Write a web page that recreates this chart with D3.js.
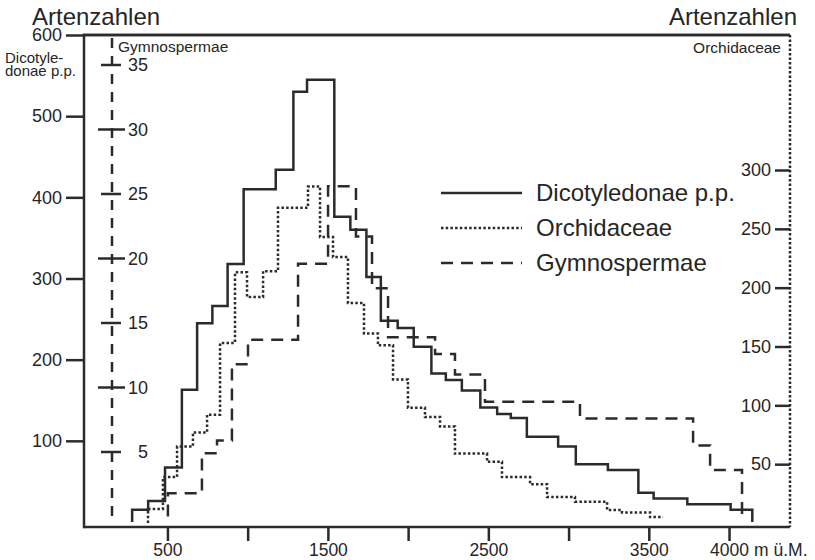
<!DOCTYPE html>
<html>
<head>
<meta charset="utf-8">
<script src="https://cdn.jsdelivr.net/npm/d3@7"></script>
<style>
  body { margin: 0; background: #fff; }
  text { font-family: "Liberation Sans", Arial, sans-serif; fill: #262626; }
</style>
</head>
<body>
<div id="chart"></div>
<script>
// step edges (m ü.M.) and species numbers per step
var dicotEdges = [280, 380, 485, 590, 685, 780, 875, 975, 1175, 1285, 1370, 1540, 1640, 1740, 1830, 1935, 2035, 2145, 2235, 2335, 2450, 2555, 2640, 2740, 2935, 3045, 3245, 3435, 3530, 3740, 4010, 4145];
var dicotValues = [15, 26, 67, 163, 245, 266, 318, 410, 434, 530, 545, 376, 360, 302, 248, 239, 216, 183, 175, 162, 141, 133, 128, 105, 93, 71, 64, 36, 29, 22, 15];

var orchidEdges = [379, 472, 560, 659, 747, 828, 921, 996, 1096, 1189, 1376, 1451, 1532, 1625, 1725, 1812, 1906, 1999, 2105, 2199, 2292, 2492, 2585, 2760, 2866, 3040, 3240, 3333, 3508, 3589];
var orchidValues = [12, 39, 65, 77, 92, 153, 213, 192, 214, 268, 286, 243, 226, 187, 161, 151, 122, 98, 90, 82, 59, 52, 39, 33, 22, 18, 11, 9, 5];

var gymnoEdges = [503, 715, 809, 902, 1002, 1314, 1501, 1675, 1775, 1875, 2168, 2292, 2479, 3071, 3776, 3882, 4081];
var gymnoValues = [1.8, 4.9, 5.9, 11.8, 13.7, 19.6, 25.6, 21.7, 17.7, 13.9, 12.6, 11.0, 8.9, 7.6, 5.5, 3.6];

// tick values
var dicotTicks = [100, 200, 300, 400, 500, 600];
var orchidTicks = [50, 100, 150, 200, 250, 300];
var gymnoTicks = [5, 10, 15, 20, 25, 30, 35];
var xTicks = [500, 1000, 1500, 2000, 2500, 3000, 3500, 4000];
var xLabelled = [500, 1500, 2500, 3500, 4000];

var legendNames = ["Dicotyledonae p.p.", "Orchidaceae", "Gymnospermae"];

var svgWidth = 815;
var svgHeight = 560;
var ink = "#2b2b2b";

var svg = d3.select("#chart")
  .append("svg")
  .attr("width", svgWidth)
  .attr("height", svgHeight);

// scales, one per species group
var x = d3.scaleLinear().domain([-20, 4380]).range([84, 790]);
var yDicot = d3.scaleLinear().domain([0, 600]).range([522, 35]);
var yOrchid = d3.scaleLinear().domain([0, 300]).range([523, 170]);
var yGymno = d3.scaleLinear().domain([0, 35]).range([516.5, 65]);

var frameBottom = 527;
var frameTop = yDicot(600);
var frameLeft = x.range()[0];
var frameRight = x.range()[1];

// left axis (Dicotyledonae)
var leftAxis = svg.append("g")
  .attr("transform", `translate(${frameLeft},0)`)
  .call(d3.axisLeft(yDicot).tickValues(dicotTicks).tickSize(18).tickPadding(4));
leftAxis.select(".domain").remove();
leftAxis.selectAll("line").attr("stroke", ink).attr("stroke-width", 2.5);
leftAxis.selectAll("text").attr("font-size", 18).attr("fill", ink);

// right axis (Orchidaceae)
var rightAxis = svg.append("g")
  .attr("transform", `translate(${frameRight},0)`)
  .call(d3.axisLeft(yOrchid).tickValues(orchidTicks).tickSize(15).tickPadding(4));
rightAxis.select(".domain").remove();
rightAxis.selectAll("line").attr("stroke", ink).attr("stroke-width", 2.5);
rightAxis.selectAll("text").attr("font-size", 18).attr("fill", ink);

// bottom axis
var xAxis = svg.append("g")
  .attr("transform", `translate(0,${frameBottom})`)
  .call(d3.axisBottom(x).tickValues(xTicks).tickSize(14).tickPadding(3)
    .tickFormat(d => xLabelled.indexOf(d) >= 0 ? d : ""));
xAxis.select(".domain").remove();
xAxis.selectAll("line").attr("stroke", ink).attr("stroke-width", 2.5);
xAxis.selectAll("text").attr("font-size", 17.5).attr("fill", ink);

svg.append("text")
  .attr("x", x(4000) + 25)
  .attr("y", 556)
  .attr("font-size", 17.5)
  .text("m ü.M.");

// dashed Gymnospermae axis inside the frame
var gx = 112;
svg.append("line")
  .attr("x1", gx).attr("x2", gx)
  .attr("y1", frameTop + 3).attr("y2", 518)
  .attr("stroke", ink).attr("stroke-width", 2.5)
  .attr("stroke-dasharray", "10,8");

var gTicks = svg.append("g");
gTicks.selectAll("line")
  .data(gymnoTicks)
  .enter()
  .append("line")
  .attr("x1", d => d % 10 == 0 ? gx - 14 : gx - 11)
  .attr("x2", d => d % 10 == 0 ? gx + 13 : gx + 9)
  .attr("y1", d => yGymno(d))
  .attr("y2", d => yGymno(d))
  .attr("stroke", ink).attr("stroke-width", 2.5);

gTicks.selectAll("text")
  .data(gymnoTicks)
  .enter()
  .append("text")
  .attr("x", 148)
  .attr("y", d => yGymno(d))
  .attr("dy", "0.35em")
  .attr("text-anchor", "end")
  .attr("font-size", 18)
  .text(d => d);

// titles and axis names
svg.append("text").attr("x", 32).attr("y", 25).attr("font-size", 24).text("Artenzahlen");
svg.append("text").attr("x", 797).attr("y", 25).attr("font-size", 24)
  .attr("text-anchor", "end").text("Artenzahlen");
svg.append("text").attr("x", 5).attr("y", 63).attr("font-size", 15).text("Dicotyle-");
svg.append("text").attr("x", 5).attr("y", 76).attr("font-size", 15).text("donae p.p.");
svg.append("text").attr("x", 118).attr("y", 52).attr("font-size", 15.5).text("Gymnospermae");
svg.append("text").attr("x", 781).attr("y", 53).attr("font-size", 15.5)
  .attr("text-anchor", "end").text("Orchidaceae");

// build step points: rise from 0, steps, optional drop to 0
function stepPoints(edges, values, drop) {
  var pts = [{ m: edges[0], v: 0 }];
  values.forEach(function(v, i) {
    pts.push({ m: edges[i], v: v });
  });
  pts.push({ m: edges[edges.length - 1], v: values[values.length - 1] });
  if (drop) pts.push({ m: edges[edges.length - 1], v: 0 });
  return pts;
}

var series = [
  { pts: stepPoints(dicotEdges, dicotValues, true), y: yDicot, dash: null },
  { pts: stepPoints(orchidEdges, orchidValues, false), y: yOrchid, dash: "2.5,2.2" },
  { pts: stepPoints(gymnoEdges, gymnoValues, true), y: yGymno, dash: "12,8" }
];

series.forEach(function(s) {
  var line = d3.line()
    .x(d => x(d.m))
    .y(d => s.y(d.v))
    .curve(d3.curveStepAfter);
  svg.append("path")
    .datum(s.pts)
    .attr("d", line)
    .attr("fill", "none")
    .attr("stroke", ink)
    .attr("stroke-width", 2.5)
    .attr("stroke-dasharray", s.dash);
});

// legend
var legend = svg.append("g");
legendNames.forEach(function(name, i) {
  var ly = 193 + i * 35;
  legend.append("line")
    .attr("x1", 441).attr("x2", 522)
    .attr("y1", ly).attr("y2", ly)
    .attr("stroke", ink).attr("stroke-width", 2.5)
    .attr("stroke-dasharray", series[i].dash);
  legend.append("text")
    .attr("x", 536).attr("y", ly)
    .attr("dy", "0.35em")
    .attr("font-size", 24)
    .text(name);
});

// frame drawn last: stroked rect for top and bottom (sides left open)
var fw = frameRight - frameLeft;
var fh = frameBottom - frameTop;
svg.append("rect")
  .attr("x", frameLeft).attr("y", frameTop)
  .attr("width", fw).attr("height", fh)
  .attr("fill", "none")
  .attr("stroke", ink).attr("stroke-width", 2.5)
  .attr("stroke-dasharray", `${fw},${fh}`);

// solid left axis and top line as thin filled bars
svg.append("rect")
  .attr("x", frameLeft - 1.25).attr("y", frameTop - 1.25)
  .attr("width", 2.5).attr("height", fh + 2.5)
  .attr("fill", ink);
svg.append("rect")
  .attr("x", frameLeft - 1.25).attr("y", frameTop - 1.25)
  .attr("width", fw + 1.25).attr("height", 2.5)
  .attr("fill", ink);

// dotted right axis
svg.append("line")
  .attr("x1", frameRight).attr("x2", frameRight)
  .attr("y1", frameTop).attr("y2", frameBottom)
  .attr("stroke", ink).attr("stroke-width", 2.5)
  .attr("stroke-dasharray", "2.5,2");
</script>
</body>
</html>
